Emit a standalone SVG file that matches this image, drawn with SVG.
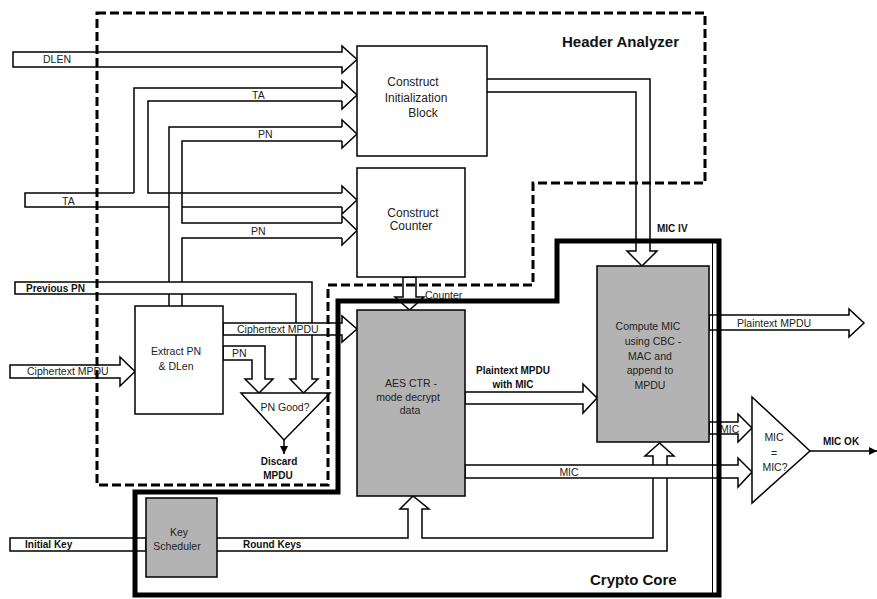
<svg xmlns="http://www.w3.org/2000/svg" width="877" height="599" viewBox="0 0 877 599">
<defs>
<style>
.ln{fill:none;stroke:#000;stroke-width:1.5;stroke-linejoin:miter}
.ar{fill:#fff;stroke:#000;stroke-width:1.5;stroke-linejoin:miter}
.bx{fill:#fff;stroke:#000;stroke-width:1.5}
.gb{fill:#b3b3b3;stroke:#000;stroke-width:1.5}
.t{font-family:"Liberation Sans",Arial,sans-serif;font-size:10.5px;fill:#222}
.tc{font-family:"Liberation Sans",Arial,sans-serif;font-size:10.5px;fill:#222;text-anchor:middle}
.tb{font-family:"Liberation Sans",Arial,sans-serif;font-size:10px;font-weight:bold;fill:#111}
.tbc{font-family:"Liberation Sans",Arial,sans-serif;font-size:10px;font-weight:bold;fill:#111;text-anchor:middle}
.big{font-family:"Liberation Sans",Arial,sans-serif;font-size:15px;font-weight:bold;fill:#111}
.dash{fill:none;stroke:#000;stroke-width:3;stroke-dasharray:9,4}
.thick{fill:none;stroke:#000;stroke-width:5;stroke-linejoin:miter}
</style>
<marker id="ah" markerUnits="userSpaceOnUse" markerWidth="8" markerHeight="8" refX="8" refY="4" orient="auto"><path d="M0,0 L8,4 L0,8 z" fill="#000"/></marker>
</defs>
<rect width="877" height="599" fill="#fff"/>

<g id="connectors">
<!-- DLEN -->
<polygon class="ar" points="13,52 342,52 342,46 357,59.5 342,73 342,67 13,67"/>
<text class="t" x="43" y="63">DLEN</text>
<!-- TA tree -->
<path class="ln" d="M134,193 H25 V207 H169"/>
<path class="ln" d="M134,193 V88 H342"/>
<path class="ln" d="M342,101 H148 V193 H342"/>
<path class="ln" d="M182,207 H342"/>
<path class="ln" d="M342,88 V81 L357,95 L342,109 V101"/>
<path class="ln" d="M342,193 V186 L357,200 L342,214 V207"/>
<text class="t" x="252" y="99">TA</text>
<text class="t" x="62" y="205">TA</text>
<!-- PN tree -->
<path class="ln" d="M169,306 V127 H342"/>
<path class="ln" d="M342,223 H182 V141 H342"/>
<path class="ln" d="M182,306 V238 H342"/>
<path class="ln" d="M342,127 V120 L357,134 L342,148 V141"/>
<path class="ln" d="M342,223 V216 L357,230.5 L342,245 V238"/>
<text class="t" x="258" y="138">PN</text>
<text class="t" x="251" y="235">PN</text>
<!-- Previous PN -->
<path class="ar" d="M15,282 H312 V379 H318 L303.5,393 L290,379 H296 V294 H15 Z"/>
<text class="tb" x="26" y="292">Previous PN</text>
<!-- Ciphertext MPDU in -->
<polygon class="ar" points="10,365 120,365 120,357 135,371.5 120,386 120,378 10,378"/>
<text class="t" x="27" y="375">Ciphertext MPDU</text>
<!-- Ciphertext MPDU to AES -->
<polygon class="ar" points="223,323 342,323 342,316 357,329 342,342 342,335 223,335"/>
<text class="t" x="237" y="333">Ciphertext MPDU</text>
<!-- PN to PN Good -->
<path class="ar" d="M223,346 H265 V379 H273 L259,393 L245,379 H252 V360 H223 Z"/>
<text class="t" x="232" y="357">PN</text>
<!-- Discard -->
<path class="ln" d="M284,440 V454" marker-end="url(#ah)"/>
<text class="tbc" x="279" y="465">Discard</text>
<text class="tbc" x="278" y="479">MPDU</text>
<!-- Counter -->
<path class="ar" d="M403,277 V297 H395 L409.5,310 L424,297 H416 V277 Z"/>
<text class="t" x="425" y="299">Counter</text>
<!-- MIC IV -->
<path class="ln" d="M487,79 H650 V251 H657 L642,266 L627,251 H636 V92 H487"/>
<text class="tb" x="657" y="232">MIC IV</text>
<!-- Plaintext MPDU with MIC -->
<polygon class="ar" points="465,392 583,392 583,384 597,398 583,413 583,404 465,404"/>
<text class="tbc" x="513" y="374">Plaintext MPDU</text>
<text class="tbc" x="513" y="388">with MIC</text>
<!-- Plaintext MPDU out -->
<polygon class="ar" points="709,315 849,315 849,309 864,323 849,337 849,330 709,330"/>
<text class="t" x="737" y="327">Plaintext MPDU</text>
<!-- Initial key -->
<path class="ar" d="M10,538 H146 V551 H10 Z"/>
<text class="tb" x="25" y="548">Initial Key</text>
<!-- Round keys -->
<path class="ln" d="M217,538 H408 V509 H400 L413,496 L429,509 H422 V538 H653 V456 H645 L659.5,443 L674,456 H667 V551 H217"/>
<text class="tb" x="243" y="548">Round Keys</text>
<!-- MIC from Compute MIC -->
<polygon class="ar" points="709,422 738,422 738,414 752,428 738,442 738,434 709,434"/>
<text class="t" x="720" y="433">MIC</text>
<!-- MIC from AES -->
<polygon class="ar" points="465,465 738,465 738,458 752,472 738,487 738,478 465,478"/>
<text class="tc" x="569" y="476">MIC</text>
<!-- MIC OK -->
<path class="ln" d="M810,451 H877" marker-end="url(#ah)"/>
<text class="tb" x="823" y="445">MIC OK</text>
</g>

<g id="init-block">
<rect class="bx" x="357" y="46" width="130" height="110"/>
<text class="tc" x="413" y="86" style="font-size:12px">Construct</text>
<text class="tc" x="416" y="102" style="font-size:12px">Initialization</text>
<text class="tc" x="423" y="117" style="font-size:12px">Block</text>
</g>
<g id="counter">
<rect class="bx" x="357" y="168" width="108" height="109"/>
<text class="tc" x="413" y="217" style="font-size:12px">Construct</text>
<text class="tc" x="411" y="230" style="font-size:12px">Counter</text>
</g>
<g id="extract-pn">
<rect class="bx" x="135" y="306" width="88" height="108"/>
<text class="tc" x="176" y="355">Extract PN</text>
<text class="tc" x="176" y="370">&amp; DLen</text>
</g>
<g id="pn-good">
<polygon class="bx" points="241,393 330,393 284,440"/>
<text class="tc" x="285" y="411">PN Good?</text>
</g>
<g id="aes">
<rect class="gb" x="357" y="310" width="108" height="186"/>
<text class="tc" x="411" y="387">AES CTR  -</text>
<text class="tc" x="408" y="401">mode decrypt</text>
<text class="tc" x="410" y="414">data</text>
</g>
<g id="compute-mic">
<rect class="gb" x="597" y="266" width="112" height="176"/>
<text class="tc" x="648" y="330">Compute MIC</text>
<text class="tc" x="653" y="345">using CBC  -</text>
<text class="tc" x="650" y="360">MAC and</text>
<text class="tc" x="650" y="374">append to</text>
<text class="tc" x="650" y="389">MPDU</text>
</g>
<g id="mic-compare">
<polygon class="bx" points="752,397 752,503 810,451"/>
<text class="tc" x="774" y="441">MIC</text>
<text class="tc" x="774" y="457">=</text>
<text class="tc" x="775" y="471">MIC?</text>
</g>
<g id="key-scheduler">
<rect class="gb" x="146" y="498" width="71" height="79"/>
<text class="tc" x="179" y="536">Key</text>
<text class="tc" x="177" y="550">Scheduler</text>
</g>

<g id="header-analyzer">
<path class="dash" d="M97,13 H705 V183 H533 V285 H328 V485 H97 Z"/>
<text class="big" x="562" y="47">Header Analyzer</text>
</g>
<g id="crypto-core">
<path class="thick" d="M338,301 H557 V241 H719 V595 H135 V492 H338 Z"/>
<path class="ln" d="M712.5,243 V593" style="stroke-width:1"/>
<text class="big" x="590" y="585">Crypto Core</text>
</g>
</svg>
